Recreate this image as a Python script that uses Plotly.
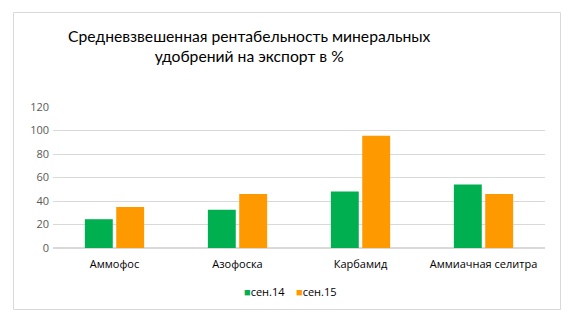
import plotly.graph_objects as go

categories = ["Аммофос", "Азофоска", "Карбамид", "Аммиачная селитра"]
series_names = ["сен.14", "сен.15"]
sep14 = [24.5, 32.5, 48, 54]
sep15 = [35, 46, 95.5, 46]
y_ticks = [0, 20, 40, 60, 80, 100, 120]
colors = ["#00B050", "#FF9900"]

FONT = "Open Sans"

fig = go.Figure()
for name, vals, col in zip(series_names, [sep14, sep15], colors):
    fig.add_trace(go.Bar(name=name, x=categories, y=vals, marker_color=col,
                         marker_line_width=0, showlegend=False))

W, H = 575, 323
ml, mr, mt, mb = 53, 30, 107, 75
pw, ph = W - ml - mr, H - mt - mb

def px_x(p):
    return (p - ml) / pw

def px_y(p):
    return (H - mb - p) / ph

# two-line centred chart title
annotations = [dict(
    text="Средневзвешенная рентабельность минеральных<br>удобрений на экспорт в %",
    xref="paper", yref="paper", x=px_x(249), y=px_y(46), xanchor="center",
    yanchor="middle", align="center", showarrow=False,
    font=dict(family="Lato", size=15.7, color="#000000"),
)]

# compact legend below the axis
legend_x = [264, 316]
for name, col, lx in zip(series_names, colors, legend_x):
    annotations.append(dict(
        text=f"<span style='color:{col}'>■</span>{name}",
        xref="paper", yref="paper", x=px_x(lx), y=px_y(291),
        xanchor="center", yanchor="middle", showarrow=False,
        font=dict(family=FONT, size=11, color="#000000"),
    ))

fig.update_layout(
    width=W, height=H,
    margin=dict(l=ml, r=mr, t=mt, b=mb),
    paper_bgcolor="white", plot_bgcolor="white",
    barmode="group", bargap=0.49, bargroupgap=0.11,
    font=dict(family=FONT, color="#595959", size=11),
    xaxis=dict(showgrid=False, showline=False, ticks="", ticklabelstandoff=8,
               tickfont=dict(size=11, color="#000000", family=FONT)),
    yaxis=dict(range=[0, 120], tickvals=y_ticks, showgrid=True, gridcolor="#D9D9D9",
               gridwidth=1, zeroline=True, zerolinecolor="#D9D9D9", showline=False,
               ticks="", ticklabelstandoff=3,
               tickfont=dict(size=11, color="#595959", family=FONT)),
    annotations=annotations,
    shapes=[dict(type="rect", xref="paper", yref="paper",
                 x0=px_x(13.5), x1=px_x(560.5), y0=px_y(309.5), y1=px_y(12.5),
                 line=dict(color="#D9D9D9", width=1), fillcolor="rgba(0,0,0,0)",
                 layer="below")],
)

fig.write_html("out.html")
